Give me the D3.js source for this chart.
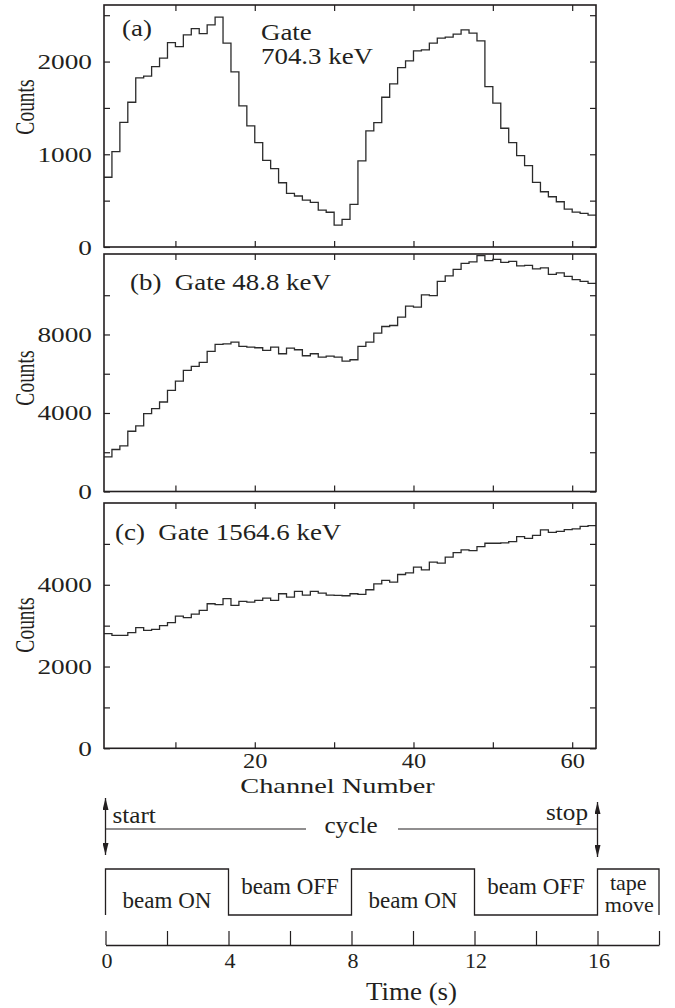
<!DOCTYPE html>
<html>
<head>
<meta charset="utf-8">
<script src="https://cdn.jsdelivr.net/npm/d3@7"></script>
<style>
  body { margin: 0; background: #fff; }
  text { font-family: "Liberation Serif", "Times New Roman", serif; fill: #231f20; }
</style>
</head>
<body>
<div id="chart"></div>
<script>
// bin start channels (each bin is one channel wide)
const channels = d3.range(1, 63);
const channelTicks = [10, 20, 30, 40, 50, 60];
const channelTickLabels = [20, 40, 60];

const countsA = [752, 1028, 1345, 1561, 1824, 1842, 1946, 2037, 2205, 2162, 2288, 2356, 2302, 2396, 2479, 2199,
  1889, 1522, 1306, 1125, 935, 845, 693, 579, 550, 506, 482, 398, 375, 236, 298, 460, 928, 1252, 1341, 1615,
  1759, 1935, 2008, 2115, 2126, 2199, 2253, 2263, 2296, 2342, 2307, 2223, 1730, 1551, 1281, 1125, 985, 877,
  698, 596, 542, 488, 409, 377, 363, 344];
const countsB = [1764, 2140, 2323, 3070, 3340, 3970, 4224, 4560, 5154, 5627, 6171, 6374, 6577, 7136, 7492, 7526,
  7611, 7391, 7357, 7323, 7187, 7357, 7018, 7306, 7221, 6916, 7018, 6848, 6899, 6848, 6645, 6713, 7391, 7611,
  8068, 8407, 8458, 8881, 9441, 9390, 10018, 9983, 10710, 10985, 11321, 11626, 11697, 12017, 11762, 11829,
  11677, 11728, 11494, 11524, 11341, 11392, 11066, 11138, 10964, 10796, 10710, 10608];
const countsC = [2805, 2763, 2763, 2829, 2951, 2885, 2910, 3000, 3073, 3234, 3195, 3283, 3373, 3536, 3512, 3659,
  3495, 3593, 3576, 3617, 3673, 3617, 3780, 3698, 3837, 3747, 3837, 3796, 3747, 3739, 3731, 3780, 3764, 3878,
  4024, 4105, 4064, 4251, 4292, 4430, 4365, 4552, 4527, 4674, 4788, 4853, 4837, 4934, 5015, 5015, 5023, 5056,
  5178, 5137, 5210, 5341, 5283, 5307, 5349, 5366, 5429, 5446];

const countTicksA = [0, 500, 1000, 1500, 2000, 2500];
const countLabelsA = [0, 1000, 2000];
const countTicksB = [0, 2000, 4000, 6000, 8000, 10000];
const countLabelsB = [0, 4000, 8000];
const countTicksC = [0, 1000, 2000, 3000, 4000, 5000];
const countLabelsC = [0, 2000, 4000];

// timing diagram
const cycleTimes = [0, 4, 8, 12, 16, 18];
const cycleLevels = [1, 0, 1, 0, 1];
const cycleLabels = [['beam ON'], ['beam OFF'], ['beam ON'], ['beam OFF'], ['tape', 'move']];
const timeTicks = [0, 2, 4, 6, 8, 10, 12, 14, 16, 18];
const timeTickLabels = [0, 4, 8, 12, 16];

const width = 675, height = 1008;
const ink = '#231f20';
const serif = '"Liberation Serif", "Times New Roman", serif';

const svg = d3.select('#chart').append('svg')
  .attr('width', width)
  .attr('height', height);

// the original figure is stretched sideways, so text gets an x scale
function stretchText(g, str, x, y, size, sx, anchor) {
  return g.append('text')
    .attr('transform', `translate(${x},${y}) scale(${sx},1)`)
    .attr('text-anchor', anchor || 'start')
    .attr('font-size', size)
    .text(str);
}

const plotLeft = 104, plotRight = 596;

const panels = [
  {counts: countsA, top: 5, bottom: 247, yMax: 2610, ticks: countTicksA, labels: countLabelsA, countsY: 107,
   notes: [['(a)', 122, 36], ['Gate', 261, 40], ['704.3 keV', 261, 63.5]]},
  {counts: countsB, top: 254, bottom: 491.5, yMax: 12100, ticks: countTicksB, labels: countLabelsB, countsY: 378,
   notes: [['(b)  Gate 48.8 keV', 130, 290]]},
  {counts: countsC, top: 503, bottom: 748.3, yMax: 6000, ticks: countTicksC, labels: countLabelsC, countsY: 625,
   notes: [['(c)  Gate 1564.6 keV', 115, 539.5]]}
];

const xScale = d3.scaleLinear().domain([1, 63]).range([0, plotRight - plotLeft]);

panels.forEach(function(p, idx) {
  const h = p.bottom - p.top;
  const w = plotRight - plotLeft;
  const yScale = d3.scaleLinear().domain([0, p.yMax]).range([h, 0]);
  const g = svg.append('g').attr('transform', `translate(${plotLeft},${p.top})`);

  const leftAxis = d3.axisLeft(yScale).tickValues(p.ticks).tickSize(-6).tickSizeOuter(0)
    .tickFormat(d => p.labels.includes(d) ? d : '');
  const yAxisG = g.append('g').call(leftAxis);
  yAxisG.selectAll('text')
    .attr('x', null).attr('dy', null)
    .attr('font-size', 21)
    .attr('font-family', serif)
    .attr('fill', ink)
    .attr('transform', 'translate(-12,7) scale(1.3,1)');

  g.append('g').attr('transform', `translate(${w},0)`)
    .call(d3.axisRight(yScale).tickValues(p.ticks).tickSize(-6).tickSizeOuter(0).tickFormat(''));

  g.append('g')
    .call(d3.axisTop(xScale).tickValues(channelTicks).tickSize(-6).tickSizeOuter(0).tickFormat(''));

  const bottomAxis = d3.axisBottom(xScale).tickValues(channelTicks).tickSize(-6).tickSizeOuter(0)
    .tickFormat(d => (idx === 2 && channelTickLabels.includes(d)) ? d : '');
  const xAxisG = g.append('g').attr('transform', `translate(0,${h})`).call(bottomAxis);
  xAxisG.selectAll('text')
    .attr('y', null).attr('dy', null)
    .attr('font-size', 20)
    .attr('font-family', serif)
    .attr('fill', ink)
    .attr('transform', 'translate(0,19.5) scale(1.22,1)');

  g.selectAll('.domain').remove();
  g.selectAll('.tick line').attr('stroke', ink).attr('stroke-width', 1.2);

  const points = channels.map((c, i) => [c, p.counts[i]]);
  points.push([63, p.counts[p.counts.length - 1]]);

  const histLine = d3.line()
    .x(d => xScale(d[0]))
    .y(d => yScale(d[1]))
    .curve(d3.curveStepAfter);

  g.append('path')
    .datum(points)
    .attr('d', histLine)
    .attr('fill', 'none')
    .attr('stroke', '#2b2b2b')
    .attr('stroke-width', 1.3);

  g.append('rect')
    .attr('width', w).attr('height', h)
    .attr('fill', 'none')
    .attr('stroke', ink)
    .attr('stroke-width', 1.6);

  svg.append('text')
    .attr('transform', `translate(34,${p.countsY}) rotate(-90) scale(1,1.4)`)
    .attr('text-anchor', 'middle')
    .attr('font-size', 19.5)
    .text('Counts');

  p.notes.forEach(function(n) {
    stretchText(svg, n[0], n[1], n[2], 23, 1.17).attr('xml:space', 'preserve');
  });
});

stretchText(svg, 'Channel Number', 337.5, 792.5, 21.5, 1.32, 'middle');

// ---- timing diagram ----
const tScale = d3.scaleLinear().domain([0, 18]).range([105.5, 659]);
const levelScale = d3.scaleLinear().domain([0, 1]).range([915, 869]);

const defs = svg.append('defs');
defs.append('marker')
  .attr('id', 'arrowHead')
  .attr('viewBox', '0 0 12 6')
  .attr('refX', 12).attr('refY', 3)
  .attr('markerWidth', 12).attr('markerHeight', 6)
  .attr('markerUnits', 'userSpaceOnUse')
  .attr('orient', 'auto-start-reverse')
  .append('path')
  .attr('d', 'M0,0 L12,3 L0,6 Z')
  .attr('fill', ink);

const diagram = svg.append('g');

[[0, 798, 855], [16, 802, 857]].forEach(function(a) {
  diagram.append('line')
    .attr('x1', tScale(a[0])).attr('x2', tScale(a[0]))
    .attr('y1', a[1]).attr('y2', a[2])
    .attr('stroke', ink).attr('stroke-width', 1.3)
    .attr('marker-start', 'url(#arrowHead)')
    .attr('marker-end', 'url(#arrowHead)');
});

diagram.append('line')
  .attr('x1', tScale(0)).attr('x2', 306).attr('y1', 829).attr('y2', 829)
  .attr('stroke', ink).attr('stroke-width', 1.2);
diagram.append('line')
  .attr('x1', 398).attr('x2', tScale(16)).attr('y1', 829).attr('y2', 829)
  .attr('stroke', ink).attr('stroke-width', 1.2);

stretchText(diagram, 'start', 112.5, 823, 24, 1.05);
stretchText(diagram, 'cycle', 351, 833, 24, 1.05, 'middle');
stretchText(diagram, 'stop', 588, 820, 24, 1.05, 'end');

const wavePoints = [[cycleTimes[0], 0]];
cycleLevels.forEach(function(lv, i) {
  wavePoints.push([cycleTimes[i], lv]);
  wavePoints.push([cycleTimes[i + 1], lv]);
});
wavePoints.push([cycleTimes[cycleTimes.length - 1], 0]);

diagram.append('path')
  .datum(wavePoints)
  .attr('d', d3.line().x(d => tScale(d[0])).y(d => levelScale(d[1])))
  .attr('fill', 'none')
  .attr('stroke', ink)
  .attr('stroke-width', 1.3);

cycleLabels.forEach(function(lines, i) {
  const cx = tScale((cycleTimes[i] + cycleTimes[i + 1]) / 2);
  if (lines.length === 2) {
    stretchText(diagram, lines[0], cx, 890, 21, 1.05, 'middle');
    stretchText(diagram, lines[1], cx + 1, 911.5, 21, 1.05, 'middle');
  } else {
    const baseY = cycleLevels[i] === 1 ? 908 : 893.5;
    stretchText(diagram, lines[0], cx, baseY, 23, 1.0, 'middle');
  }
});

const timeAxis = d3.axisBottom(tScale)
  .tickValues(timeTicks)
  .tickSize(-14)
  .tickSizeOuter(0)
  .tickFormat(d => timeTickLabels.includes(d) ? d : '');

const timeAxisG = diagram.append('g').attr('transform', 'translate(0,945)').call(timeAxis);
timeAxisG.select('.domain').attr('stroke', ink).attr('stroke-width', 1.3);
timeAxisG.selectAll('.tick line').attr('stroke', ink).attr('stroke-width', 1.2);
timeAxisG.selectAll('text')
  .attr('y', null).attr('dy', null)
  .attr('font-size', 22)
  .attr('font-family', serif)
  .attr('fill', ink)
  .attr('transform', 'translate(1,23)');

stretchText(diagram, 'Time (s)', 411.5, 1000, 25, 1.08, 'middle');
</script>
</body>
</html>
